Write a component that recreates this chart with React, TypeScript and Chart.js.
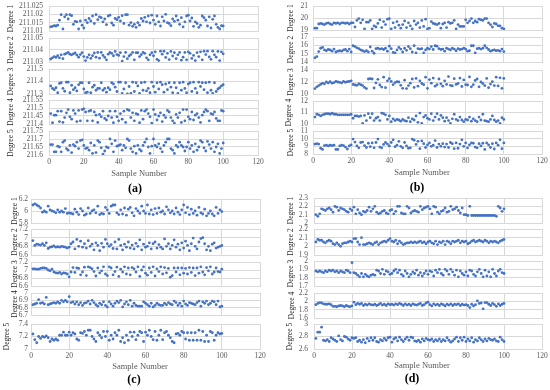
import React, { useEffect, useRef } from "react";
import { Chart, registerables } from "chart.js";

Chart.register(...registerables);

// ---------------- data ----------------
const sampleNumbers: number[] = Array.from({ length: 100 }, (_, i) => i + 1);

const aDegree1 = [
  211.0125, 211.0128, 211.0132, 211.0130, 211.0135, 211.0165, 211.0198, 211.0112, 211.0185, 211.0198,
  211.0172, 211.0198, 211.0192, 211.0140, 211.0158, 211.0155, 211.0112, 211.0160, 211.0135, 211.0118,
  211.0165, 211.0150, 211.0175, 211.0160, 211.0190, 211.0145, 211.0198, 211.0168, 211.0185, 211.0180,
  211.0155, 211.0172, 211.0138, 211.0190, 211.0195, 211.0148, 211.0135, 211.0175, 211.0168, 211.0182,
  211.0160, 211.0192, 211.0145, 211.0198, 211.0198, 211.0135, 211.0150, 211.0128, 211.0140, 211.0122,
  211.0150, 211.0135, 211.0175, 211.0160, 211.0182, 211.0155, 211.0190, 211.0148, 211.0195, 211.0165,
  211.0140, 211.0190, 211.0155, 211.0130, 211.0185, 211.0160, 211.0200, 211.0150, 211.0145, 211.0132,
  211.0172, 211.0158, 211.0190, 211.0165, 211.0140, 211.0180, 211.0125, 211.0155, 211.0190, 211.0195,
  211.0160, 211.0178, 211.0128, 211.0155, 211.0145, 211.0122, 211.0135, 211.0190, 211.0180, 211.0165,
  211.0130, 211.0185, 211.0118, 211.0170, 211.0190, 211.0140, 211.0122, 211.0112, 211.0132, 211.0130,
];
const aDegree2 = [
  211.0325, 211.0335, 211.0345, 211.0338, 211.0352, 211.0335, 211.0360, 211.0328, 211.0365, 211.0372,
  211.0380, 211.0365, 211.0360, 211.0368, 211.0375, 211.0358, 211.0340, 211.0362, 211.0378, 211.0345,
  211.0312, 211.0338, 211.0360, 211.0330, 211.0352, 211.0375, 211.0340, 211.0380, 211.0332, 211.0380,
  211.0355, 211.0338, 211.0318, 211.0365, 211.0380, 211.0372, 211.0352, 211.0388, 211.0362, 211.0355,
  211.0378, 211.0308, 211.0345, 211.0380, 211.0328, 211.0350, 211.0362, 211.0380, 211.0318, 211.0378,
  211.0378, 211.0345, 211.0362, 211.0380, 211.0372, 211.0335, 211.0318, 211.0360, 211.0378, 211.0352,
  211.0385, 211.0322, 211.0312, 211.0390, 211.0365, 211.0390, 211.0338, 211.0372, 211.0320, 211.0388,
  211.0350, 211.0378, 211.0328, 211.0360, 211.0380, 211.0315, 211.0340, 211.0380, 211.0318, 211.0385,
  211.0372, 211.0330, 211.0355, 211.0312, 211.0378, 211.0345, 211.0385, 211.0318, 211.0390, 211.0362,
  211.0390, 211.0342, 211.0322, 211.0390, 211.0360, 211.0340, 211.0388, 211.0312, 211.0385, 211.0368,
];
const aDegree3 = [
  211.365, 211.345, 211.335, 211.350, 211.310, 211.385, 211.390, 211.345, 211.322, 211.395,
  211.395, 211.310, 211.370, 211.335, 211.350, 211.325, 211.375, 211.390, 211.390, 211.340,
  211.310, 211.315, 211.390, 211.310, 211.355, 211.370, 211.330, 211.345, 211.345, 211.390,
  211.330, 211.345, 211.315, 211.350, 211.335, 211.390, 211.380, 211.355, 211.320, 211.395,
  211.395, 211.305, 211.340, 211.390, 211.300, 211.360, 211.305, 211.395, 211.320, 211.390,
  211.365, 211.305, 211.390, 211.330, 211.395, 211.325, 211.345, 211.310, 211.395, 211.360,
  211.315, 211.390, 211.340, 211.395, 211.375, 211.315, 211.380, 211.335, 211.390, 211.355,
  211.310, 211.390, 211.350, 211.305, 211.390, 211.330, 211.395, 211.345, 211.310, 211.380,
  211.390, 211.320, 211.395, 211.345, 211.310, 211.395, 211.360, 211.390, 211.335, 211.390,
  211.310, 211.395, 211.330, 211.305, 211.390, 211.320, 211.340, 211.350, 211.365, 211.375,
];
const aDegree4 = [
  211.465, 211.408, 211.455, 211.455, 211.480, 211.415, 211.480, 211.410, 211.440, 211.470,
  211.490, 211.445, 211.430, 211.485, 211.465, 211.415, 211.485, 211.420, 211.490, 211.495,
  211.475, 211.420, 211.480, 211.485, 211.420, 211.475, 211.455, 211.410, 211.460, 211.445,
  211.480, 211.435, 211.425, 211.450, 211.480, 211.440, 211.408, 211.480, 211.445, 211.420,
  211.465, 211.430, 211.480, 211.410, 211.490, 211.485, 211.440, 211.470, 211.420, 211.465,
  211.460, 211.408, 211.485, 211.430, 211.480, 211.490, 211.465, 211.445, 211.405, 211.490,
  211.460, 211.425, 211.450, 211.470, 211.415, 211.455, 211.440, 211.485, 211.475, 211.440,
  211.420, 211.405, 211.460, 211.440, 211.470, 211.410, 211.490, 211.420, 211.490, 211.445,
  211.430, 211.475, 211.425, 211.455, 211.465, 211.440, 211.410, 211.455, 211.475, 211.490,
  211.480, 211.420, 211.465, 211.460, 211.475, 211.435, 211.420, 211.420, 211.485, 211.480,
];
const aDegree5 = [
  211.665, 211.665, 211.620, 211.620, 211.655, 211.650, 211.620, 211.680, 211.690, 211.640,
  211.630, 211.660, 211.615, 211.665, 211.655, 211.680, 211.640, 211.690, 211.695, 211.660,
  211.640, 211.645, 211.630, 211.675, 211.610, 211.660, 211.615, 211.690, 211.680, 211.645,
  211.605, 211.625, 211.650, 211.645, 211.700, 211.670, 211.620, 211.690, 211.655, 211.660,
  211.665, 211.630, 211.660, 211.645, 211.700, 211.690, 211.640, 211.620, 211.655, 211.610,
  211.660, 211.635, 211.625, 211.660, 211.680, 211.700, 211.650, 211.610, 211.655, 211.700,
  211.660, 211.650, 211.670, 211.640, 211.620, 211.660, 211.680, 211.700, 211.700, 211.640,
  211.630, 211.610, 211.660, 211.650, 211.680, 211.660, 211.650, 211.625, 211.650, 211.680,
  211.640, 211.660, 211.620, 211.670, 211.630, 211.650, 211.690, 211.680, 211.645, 211.625,
  211.685, 211.665, 211.640, 211.680, 211.620, 211.650, 211.670, 211.610, 211.640, 211.675,
];

const bDegree1 = [
  19.15, 19.15, 19.5, 19.55, 19.5, 19.45, 19.55, 19.6, 19.5, 19.45,
  19.6, 19.55, 19.6, 19.5, 19.6, 19.6, 19.55, 19.6, 19.5, 19.6,
  19.6, 19.25, 19.8, 19.95, 19.6, 19.85, 19.1, 19.65, 19.65, 19.8,
  19.1, 19.35, 19.25, 19.55, 19.85, 19.2, 19.7, 19.45, 19.9, 19.95,
  19.1, 19.6, 19.2, 19.7, 19.4, 19.15, 19.45, 19.75, 19.2, 19.6,
  19.35, 19.1, 19.75, 19.45, 19.6, 19.2, 19.8, 19.3, 19.9, 19.1,
  19.15, 19.7, 19.55, 19.5, 19.45, 19.55, 19.15, 19.5, 19.6, 19.2,
  19.65, 19.55, 19.6, 19.8, 19.1, 19.45, 19.3, 19.3, 19.3, 19.85,
  19.6, 19.75, 19.95, 19.6, 19.75, 19.65, 19.9, 19.85, 19.8, 19.95,
  19.95, 19.6, 19.45, 19.25, 19.55, 19.5, 19.35, 19.35, 19.15, 19.1,
];
const bDegree2 = [
  14.5, 14.65, 15.25, 15.65, 15.75, 15.45, 15.35, 15.5, 15.45, 15.3,
  15.55, 15.2, 15.3, 15.35, 15.3, 15.45, 15.5, 15.3, 15.55, 15.2,
  15.95, 15.85, 15.7, 15.6, 15.45, 15.35, 15.25, 15.35, 15.2, 15.8,
  15.3, 15.05, 15.6, 15.65, 15.55, 15.6, 15.5, 15.65, 15.3, 15.9,
  15.6, 15.15, 15.1, 15.45, 15.75, 15.55, 15.2, 15.65, 15.4, 15.85,
  15.6, 15.2, 15.95, 15.1, 15.6, 15.55, 15.6, 15.1, 15.45, 15.65,
  15.55, 15.85, 15.5, 15.95, 15.9, 15.6, 15.5, 15.55, 15.3, 15.65,
  15.55, 15.45, 15.65, 15.55, 15.35, 15.6, 15.5, 15.55, 15.65, 15.55,
  15.3, 15.35, 15.95, 15.95, 15.1, 15.6, 15.65, 15.55, 15.65, 15.95,
  15.7, 15.5, 15.3, 15.4, 15.45, 15.35, 15.4, 15.3, 15.55, 15.25,
];
const bDegree3 = [
  10.9, 11.2, 11.4, 11.6, 11.8, 11.7, 12.0, 11.85, 12.05, 11.8,
  11.9, 12.1, 12.0, 11.95, 11.85, 12.1, 11.95, 12.05, 12.1, 12.2,
  11.6, 11.5, 11.45, 11.7, 11.55, 11.4, 11.1, 10.9, 12.5, 12.55,
  12.5, 11.0, 11.85, 12.45, 11.5, 11.15, 12.8, 11.05, 12.2, 12.55,
  12.1, 11.55, 11.9, 12.05, 12.0, 11.45, 10.95, 12.3, 10.9, 11.4,
  11.8, 12.5, 11.1, 12.6, 11.3, 12.2, 11.75, 11.55, 12.8, 10.95,
  12.4, 11.8, 12.65, 11.3, 11.55, 12.5, 11.7, 11.3, 12.2, 11.6,
  12.9, 11.45, 11.35, 12.55, 11.6, 11.75, 12.65, 11.25, 12.35, 11.55,
  11.5, 12.85, 11.2, 11.55, 12.25, 12.5, 11.2, 12.0, 11.75, 11.4,
  12.6, 11.05, 11.65, 12.05, 11.4, 12.8, 11.35, 12.7, 10.95, 12.6,
];
const bDegree4 = [
  10.6, 10.85, 10.8, 10.7, 10.8, 10.85, 10.9, 10.9, 10.85, 10.95,
  10.85, 10.85, 10.8, 10.8, 10.8, 10.8, 10.8, 10.8, 10.8, 10.85,
  10.5, 10.7, 10.7, 10.65, 10.7, 10.05, 10.75, 10.3, 10.9, 10.55,
  10.9, 10.3, 10.5, 10.6, 10.3, 10.95, 10.9, 10.8, 10.4, 10.7,
  10.2, 10.45, 10.3, 10.4, 10.35, 10.25, 10.4, 10.3, 10.25, 10.55,
  10.2, 10.45, 10.35, 10.7, 10.15, 10.95, 10.05, 10.6, 10.75, 10.5,
  10.4, 10.9, 10.3, 10.6, 10.9, 10.4, 10.75, 10.55, 10.25, 10.55,
  10.3, 10.05, 10.45, 10.85, 10.4, 10.3, 10.6, 10.35, 10.2, 10.4,
  10.35, 10.6, 10.25, 10.45, 10.3, 10.2, 10.6, 10.35, 10.85, 10.3,
  10.25, 10.2, 10.4, 10.7, 10.35, 10.2, 10.3, 10.05, 10.55, 10.4,
];
const bDegree5 = [
  9.3, 9.35, 9.3, 8.75, 8.6, 9.1, 9.15, 9.05, 9.15, 9.1,
  9.15, 8.6, 8.6, 9.05, 9.15, 9.1, 8.9, 8.65, 9.05, 9.2,
  9.95, 9.55, 9.05, 8.8, 9.5, 9.55, 9.1, 8.85, 9.4, 8.95,
  9.45, 8.8, 9.5, 9.95, 8.9, 8.8, 9.25, 9.5, 9.3, 9.05,
  9.5, 9.85, 8.95, 9.15, 9.65, 9.0, 8.8, 9.5, 9.05, 8.75,
  8.8, 9.95, 9.8, 9.25, 9.65, 8.7, 9.7, 9.35, 8.85, 9.2,
  9.45, 9.0, 9.15, 9.75, 8.85, 9.3, 9.0, 9.35, 8.9, 9.3,
  8.85, 9.5, 9.35, 8.7, 9.45, 8.75, 9.3, 9.85, 9.0, 9.45,
  8.8, 9.2, 9.45, 9.4, 8.9, 8.8, 9.35, 9.05, 9.4, 8.6,
  9.45, 9.2, 8.85, 9.35, 8.65, 9.45, 9.15, 9.85, 8.7, 9.45,
];

const cDegree1 = [
  6.1, 6.12, 6.1, 6.08, 6.05, 5.98, 6.0, 5.98, 6.08, 6.02,
  6.0, 5.99, 5.97, 6.02, 5.98, 6.0, 5.98, 6.04, 5.96, 5.97,
  5.96, 5.95, 6.03, 5.98, 5.94, 6.04, 6.0, 5.93, 5.95, 6.05,
  5.96, 6.0, 6.02, 5.97, 6.08, 5.94, 5.96, 5.95, 6.06, 6.02,
  5.96, 6.08, 6.1, 6.1, 5.97, 5.94, 6.02, 5.95, 6.05, 5.93,
  6.03, 6.06, 5.97, 5.92, 6.04, 6.0, 5.96, 6.08, 6.0, 5.96,
  6.1, 5.95, 6.02, 5.94, 6.04, 5.96, 6.05, 5.98, 6.0, 5.95,
  6.07, 6.02, 5.97, 6.0, 5.95, 6.05, 5.98, 5.94, 6.02, 6.1,
  5.97, 6.06, 5.94, 6.03, 5.96, 6.0, 5.93, 6.06, 5.97, 5.95,
  6.03, 5.92, 5.96, 6.0, 5.95, 5.92, 6.06, 5.96, 6.02, 5.99,
];
const cDegree2 = [
  6.93, 6.82, 6.85, 6.84, 6.83, 6.86, 6.82, 6.88, 6.75, 6.78,
  6.79, 6.81, 6.78, 6.79, 6.78, 6.8, 6.79, 6.78, 6.76, 6.78,
  6.86, 6.9, 6.74, 6.96, 6.8, 6.92, 6.78, 6.86, 6.76, 6.93,
  6.8, 6.85, 6.72, 6.88, 6.82, 6.7, 6.87, 6.78, 6.96, 6.86,
  6.8, 6.84, 6.75, 6.9, 6.74, 6.96, 6.82, 6.72, 6.85, 6.78,
  6.9, 6.76, 6.83, 6.74, 6.87, 6.8, 6.95, 6.72, 6.85, 6.78,
  6.8, 6.88, 6.74, 6.86, 6.9, 6.76, 6.84, 6.78, 6.74, 6.97,
  6.8, 6.86, 6.74, 6.82, 6.95, 6.78, 6.85, 6.72, 6.88, 6.76,
  6.92, 6.82, 6.7, 6.86, 6.99, 6.8, 6.74, 6.9, 6.98, 7.0,
  6.86, 6.72, 6.8, 6.7, 6.85, 6.88, 6.76, 6.78, 6.8, 6.82,
];
const cDegree3 = [
  7.03, 7.03, 7.02, 7.02, 7.04, 7.05, 7.05, 7.04, 7.0, 6.98,
  7.02, 6.95, 6.93, 6.92, 6.94, 6.9, 6.93, 6.92, 6.9, 6.83,
  6.95, 7.06, 6.94, 7.05, 7.04, 6.88, 6.95, 7.07, 6.86, 7.08,
  7.06, 7.03, 6.96, 6.85, 7.05, 6.93, 6.98, 7.08, 6.9, 6.86,
  7.08, 7.05, 6.88, 6.96, 7.07, 6.84, 7.02, 6.95, 7.08, 6.9,
  7.05, 6.88, 7.06, 7.03, 6.95, 7.08, 6.84, 7.0, 7.08, 6.92,
  6.87, 7.05, 6.94, 7.08, 6.85, 7.03, 6.96, 7.08, 6.9, 7.06,
  6.93, 7.04, 6.82, 6.86, 7.05, 6.95, 7.05, 6.88, 7.05, 6.92,
  7.04, 6.9, 7.06, 6.94, 7.05, 6.86, 7.05, 6.92, 7.08, 6.95,
  6.88, 7.06, 6.98, 7.08, 6.9, 6.95, 7.05, 6.96, 6.95, 7.02,
];
const cDegree4 = [
  6.84, 6.85, 6.86, 6.91, 6.86, 6.87, 6.85, 6.94, 6.84, 6.85,
  6.86, 6.87, 6.86, 6.88, 6.86, 6.9, 6.88, 6.9, 6.88, 6.95,
  6.87, 6.88, 6.85, 6.88, 6.84, 6.87, 6.83, 6.86, 6.87, 6.89,
  6.85, 6.9, 6.87, 6.84, 6.82, 6.86, 6.84, 6.88, 6.83, 6.81,
  6.88, 6.85, 6.82, 6.86, 6.89, 6.87, 6.9, 6.81, 6.85, 6.88,
  6.84, 6.9, 6.82, 6.86, 6.83, 6.82, 6.82, 6.82, 6.88, 6.86,
  6.84, 6.82, 6.86, 6.81, 6.83, 6.86, 6.84, 6.83, 6.83, 6.86,
  6.84, 6.87, 6.85, 6.84, 6.89, 6.87, 6.83, 6.86, 6.82, 6.89,
  6.85, 6.83, 6.87, 6.86, 6.85, 6.84, 6.87, 6.89, 6.82, 6.88,
  6.86, 6.89, 6.84, 6.86, 6.89, 6.88, 6.84, 6.89, 6.81, 6.82,
];
const cDegree5 = [
  7.24, 7.15, 7.1, 7.2, 7.17, 7.2, 7.19, 7.21, 7.18, 7.12,
  7.16, 7.14, 7.16, 7.14, 7.22, 7.22, 7.27, 7.22, 7.22, 7.27,
  7.22, 7.26, 7.24, 7.16, 7.14, 7.26, 7.25, 7.28, 7.22, 7.3,
  7.3, 7.2, 7.16, 7.12, 7.26, 7.22, 7.18, 7.28, 7.2, 7.28,
  7.14, 7.22, 7.16, 7.26, 7.22, 7.3, 7.12, 7.18, 7.1, 7.22,
  7.14, 7.27, 7.2, 7.27, 7.15, 7.22, 7.28, 7.26, 7.12, 7.27,
  7.22, 7.3, 7.2, 7.15, 7.28, 7.14, 7.22, 7.3, 7.15, 7.26,
  7.28, 7.22, 7.18, 7.12, 7.1, 7.24, 7.25, 7.22, 7.28, 7.26,
  7.16, 7.26, 7.14, 7.26, 7.14, 7.26, 7.14, 7.3, 7.14, 7.28,
  7.12, 7.22, 7.12, 7.28, 7.26, 7.14, 7.22, 7.26, 7.24, 7.25,
];

const dDegree1 = [
  2.1, 2.08, 2.11, 2.17, 2.16, 2.15, 2.17, 2.18, 2.16, 2.13,
  2.2, 2.19, 2.15, 2.18, 2.17, 2.16, 2.14, 2.13, 2.17, 2.15,
  2.19, 2.11, 2.16, 2.12, 2.1, 2.14, 2.13, 2.15, 2.19, 2.14,
  2.17, 2.2, 2.13, 2.11, 2.12, 2.14, 2.15, 2.12, 2.11, 2.15,
  2.16, 2.11, 2.14, 2.2, 2.2, 2.12, 2.11, 2.11, 2.2, 2.18,
  2.12, 2.14, 2.15, 2.14, 2.13, 2.2, 2.16, 2.18, 2.19, 2.2,
  2.17, 2.11, 2.2, 2.19, 2.13, 2.11, 2.14, 2.15, 2.18, 2.13,
  2.14, 2.2, 2.16, 2.17, 2.19, 2.15, 2.12, 2.18, 2.1, 2.1,
  2.09, 2.2, 2.09, 2.09, 2.09, 2.09, 2.09, 2.09, 2.09, 2.09,
  2.09, 2.09, 2.09, 2.09, 2.09, 2.08, 2.2, 2.18, 2.14, 2.17,
];
const dDegree2 = [
  2.05, 2.08, 2.07, 2.07, 2.05, 2.04, 2.06, 2.07, 2.06, 2.03,
  2.02, 2.04, 2.02, 2.0, 2.03, 2.04, 2.04, 2.05, 2.06, 2.05,
  2.09, 2.09, 2.05, 2.02, 2.1, 2.02, 2.02, 2.03, 2.04, 2.03,
  2.02, 2.04, 2.05, 2.02, 2.04, 2.05, 2.06, 2.05, 2.07, 2.09,
  2.06, 2.05, 2.07, 2.03, 2.06, 2.04, 2.02, 2.03, 2.04, 2.04,
  2.05, 2.04, 2.05, 2.04, 2.05, 2.06, 2.04, 2.05, 2.03, 2.05,
  2.06, 2.04, 2.03, 2.06, 2.02, 2.05, 2.04, 2.06, 2.02, 2.06,
  2.05, 2.03, 2.06, 2.05, 2.06, 2.07, 2.04, 2.06, 2.05, 2.06,
  2.03, 2.04, 2.06, 2.07, 2.05, 2.06, 2.07, 2.06, 2.05, 2.07,
  2.06, 2.04, 2.06, 2.05, 2.06, 2.05, 2.04, 2.06, 2.07, 2.08,
];
const dDegree3 = [
  1.88, 1.87, 1.88, 1.87, 1.86, 1.88, 1.87, 1.89, 1.88, 1.89,
  1.87, 1.88, 1.86, 1.88, 1.87, 1.86, 1.89, 1.88, 1.86, 1.98,
  1.86, 1.85, 1.83, 1.81, 1.85, 1.81, 1.84, 1.82, 1.81, 1.83,
  1.84, 1.83, 1.89, 1.88, 1.85, 1.9, 1.84, 1.88, 1.87, 1.84,
  1.85, 1.88, 1.9, 1.86, 1.89, 1.84, 1.82, 1.88, 1.85, 1.81,
  1.84, 1.87, 1.85, 1.89, 1.83, 1.86, 1.82, 1.85, 1.88, 1.84,
  1.88, 1.87, 1.82, 1.89, 1.86, 1.9, 1.85, 1.83, 1.9, 1.88,
  1.84, 1.9, 1.87, 1.83, 1.89, 1.81, 1.88, 1.85, 1.83, 1.87,
  1.82, 1.89, 1.88, 1.84, 1.82, 1.87, 1.9, 1.85, 1.81, 1.89,
  1.82, 1.87, 1.81, 1.9, 1.85, 1.82, 1.88, 1.9, 1.86, 1.85,
];
const dDegree4 = [
  1.92, 1.95, 1.97, 1.96, 1.94, 1.93, 1.93, 1.94, 1.92, 1.88,
  1.88, 1.87, 1.89, 1.9, 1.89, 1.87, 1.9, 1.88, 1.87, 1.89,
  1.98, 1.92, 1.95, 1.93, 1.95, 1.9, 1.93, 1.91, 1.94, 1.92,
  1.91, 1.93, 1.9, 1.92, 1.95, 1.91, 1.93, 1.9, 1.94, 1.92,
  1.93, 1.91, 1.94, 1.92, 1.95, 1.93, 1.9, 1.94, 1.91, 1.93,
  1.9, 1.94, 1.92, 1.91, 1.93, 1.95, 1.9, 1.92, 1.96, 1.98,
  1.92, 1.89, 1.94, 1.91, 1.93, 1.9, 1.94, 1.92, 1.89, 1.93,
  1.91, 1.94, 1.9, 1.93, 1.92, 1.94, 1.9, 1.93, 1.91, 1.92,
  1.9, 1.85, 1.93, 1.89, 1.92, 2.01, 1.95, 1.96, 1.82, 1.97,
  1.97, 1.93, 1.9, 1.95, 1.92, 1.88, 1.94, 1.9, 1.93, 1.95,
];
const dDegree5 = [
  2.77, 2.87, 2.87, 2.95, 2.74, 2.73, 2.75, 2.72, 2.78, 2.76,
  2.74, 2.72, 2.81, 2.75, 2.73, 2.8, 2.79, 2.76, 2.74, 2.78,
  2.77, 2.78, 2.72, 2.74, 2.71, 2.75, 2.7, 2.77, 2.73, 2.78,
  2.74, 2.78, 2.72, 2.71, 2.75, 2.73, 2.77, 2.74, 2.78, 2.79,
  2.71, 2.76, 2.78, 2.73, 2.79, 2.75, 2.72, 2.76, 2.79, 2.74,
  2.79, 2.78, 2.73, 2.72, 2.74, 2.71, 2.76, 2.73, 2.77, 2.75,
  2.74, 2.76, 2.72, 2.75, 2.73, 2.76, 2.72, 2.75, 2.73, 2.78,
  2.74, 2.71, 2.73, 2.76, 2.79, 2.72, 2.78, 2.74, 2.79, 2.72,
  2.76, 2.73, 2.78, 2.71, 2.75, 2.73, 2.78, 2.75, 2.72, 2.76,
  2.73, 2.77, 2.75, 2.74, 2.76, 2.73, 2.72, 2.79, 2.75, 2.72,
];

// y-axis ranges / tick labels: [min, max, step]
const aAxes = [[211.01, 211.025, 0.005], [211.03, 211.05, 0.01], [211.3, 211.5, 0.1], [211.4, 211.55, 0.05], [211.6, 211.75, 0.05]];
const bAxes = [[19, 21, 1], [14, 17, 1], [10, 14, 2], [10, 12, 1], [8, 11, 1]];
const cAxes = [[5.8, 6.2, 0.2], [6.6, 7.2, 0.2], [6.6, 7.2, 0.2], [6.7, 7, 0.1], [7, 7.4, 0.2]];
const dAxes = [[2, 2.3, 0.1], [1.9, 2.2, 0.1], [1.7, 2, 0.1], [1.6, 2.2, 0.2], [2.6, 3, 0.2]];
const xAxisRange = [0, 120, 20];

const degreeTitles = ["Degree 1", "Degree 2", "Degree 3", "Degree 4", "Degree 5"];
const panelLabels = ["(a)", "(b)", "(c)", "(d)"];
const xAxisTitle = "Sample Number";

// ---------------- layout ----------------
const FONT = "'Liberation Serif', 'Times New Roman', serif";
const BLUE = "#4472C4";
const GRID = "#d9d9d9";
const TICK_COLOR = "#595959";
const TITLE_COLOR = "#262626";
const TICK_SIZE = 7.5;
const TITLE_SIZE = 7.5;

type Layout = {
  left: number;
  plotLeft: number;
  plotRight: number;
  rows: number[][];
  titleX: number[];
  tickPad: number;
  label: number[];
  xTitle: number[];
};

const layouts: Layout[] = [
  { left: 0, plotLeft: 49, plotRight: 258, rows: [[6, 31], [38, 62], [69, 94], [100, 124], [131, 155]], titleX: [11, 11, 11, 11, 11], tickPad: 6, label: [135, 188], xTitle: [139, 173] },
  { left: 275, plotLeft: 313, plotRight: 542, rows: [[6, 30], [37, 62], [70, 94], [101, 124], [131, 154]], titleX: [291, 291, 291, 289, 291], tickPad: 5, label: [417, 187], xTitle: [422, 172] },
  { left: 0, plotLeft: 31, plotRight: 260, rows: [[199, 223], [229, 255], [262, 286], [293, 315], [324, 349]], titleX: [15, 15, 15, 15, 7], tickPad: 3, label: [134, 379], xTitle: [140, 366] },
  { left: 275, plotLeft: 314, plotRight: 542, rows: [[198, 223], [229, 255], [261, 286], [293, 318], [324, 349]], titleX: [291, 291, 291, 292, 290], tickPad: 6, label: [412, 378], xTitle: [422, 365] },
];

const panelSeries = [
  [aDegree1, aDegree2, aDegree3, aDegree4, aDegree5],
  [bDegree1, bDegree2, bDegree3, bDegree4, bDegree5],
  [cDegree1, cDegree2, cDegree3, cDegree4, cDegree5],
  [dDegree1, dDegree2, dDegree3, dDegree4, dDegree5],
];
const panelAxes = [aAxes, bAxes, cAxes, dAxes];

const fmt = (v: any) => String(Number(Number(v).toFixed(4)));

function SubPlot(props: { layout: Layout; index: number; values: number[]; axis: number[]; title: string }) {
  const { layout, index, values, axis, title } = props;
  const ref = useRef<HTMLCanvasElement | null>(null);
  const isBottom = index === 4;
  const [top, bottom] = layout.rows[index];
  const plotH = bottom - top;
  const width = layout.plotRight - layout.left + 7;
  const xAxisH = isBottom ? 16 : 0;
  const padBottom = isBottom ? 0 : 6;
  const height = plotH + 6 + xAxisH + padBottom;
  const yWidth = layout.plotLeft - layout.left;
  const titlePad = layout.titleX[index] - layout.left - (TITLE_SIZE * 1.2) / 2;

  useEffect(() => {
    if (!ref.current) return;
    const chart = new Chart(ref.current, {
      type: "scatter",
      data: {
        datasets: [
          {
            data: values.map((v, i) => ({ x: sampleNumbers[i], y: v })),
            backgroundColor: BLUE,
            borderColor: BLUE,
            borderWidth: 0,
            pointRadius: 1.4,
            pointHoverRadius: 1.4,
          },
        ],
      },
      options: {
        animation: false,
        responsive: false,
        maintainAspectRatio: false,
        events: [],
        layout: { padding: { top: 6, right: 7, bottom: padBottom, left: 0 } },
        plugins: { legend: { display: false }, tooltip: { enabled: false }, title: { display: false } },
        scales: {
          x: {
            type: "linear",
            position: "bottom",
            min: xAxisRange[0],
            max: xAxisRange[1],
            ticks: {
              stepSize: xAxisRange[2],
              display: isBottom,
              autoSkip: false,
              padding: 3,
              color: TICK_COLOR,
              font: { family: FONT, size: TICK_SIZE },
              maxRotation: 0,
            },
            grid: { color: GRID, drawTicks: false, lineWidth: 1 },
            border: { display: true, color: GRID },
            afterFit: (s: any) => {
              s.height = xAxisH;
              s.paddingLeft = 0;
              s.paddingRight = 0;
              s.paddingTop = 0;
              s.paddingBottom = 0;
            },
          },
          y: {
            type: "linear",
            position: "left",
            min: axis[0],
            max: axis[1],
            ticks: {
              stepSize: axis[2],
              autoSkip: false,
              padding: layout.tickPad,
              color: TICK_COLOR,
              font: { family: FONT, size: TICK_SIZE },
              callback: (v: any) => fmt(v),
            },
            grid: { color: GRID, drawTicks: false, lineWidth: 1 },
            border: { display: true, color: GRID },
            title: {
              display: true,
              text: title,
              color: TITLE_COLOR,
              font: { family: FONT, size: TITLE_SIZE },
              padding: { top: titlePad, bottom: 0 },
            },
            afterFit: (s: any) => {
              s.width = yWidth;
              s.paddingTop = 0;
              s.paddingBottom = 0;
              s.paddingLeft = 0;
              s.paddingRight = 0;
            },
          },
        },
      } as any,
    });
    return () => chart.destroy();
  }, []);

  return (
    <canvas
      ref={ref}
      width={width}
      height={height}
      style={{ position: "absolute", left: layout.left, top: top - 6, width, height, display: "block" }}
    />
  );
}

const textBase: React.CSSProperties = {
  position: "absolute",
  transform: "translate(-50%, -50%)",
  whiteSpace: "nowrap",
  lineHeight: 1,
  fontFamily: FONT,
};

export default function App() {
  return (
    <div
      style={{
        position: "absolute",
        left: 0,
        top: 0,
        width: 550,
        height: 390,
        overflow: "hidden",
        background: "#ffffff",
      }}
    >
      {layouts.map((layout, p) => (
        <React.Fragment key={p}>
          {panelSeries[p].map((values, i) => (
            <SubPlot key={i} layout={layout} index={i} values={values} axis={panelAxes[p][i]} title={degreeTitles[i]} />
          ))}
          <div style={{ ...textBase, left: layout.xTitle[0], top: layout.xTitle[1], fontSize: 8.5, color: TICK_COLOR }}>
            {xAxisTitle}
          </div>
          <div style={{ ...textBase, left: layout.label[0], top: layout.label[1], fontSize: 12, fontWeight: "bold", color: "#000" }}>
            {panelLabels[p]}
          </div>
        </React.Fragment>
      ))}
    </div>
  );
}
